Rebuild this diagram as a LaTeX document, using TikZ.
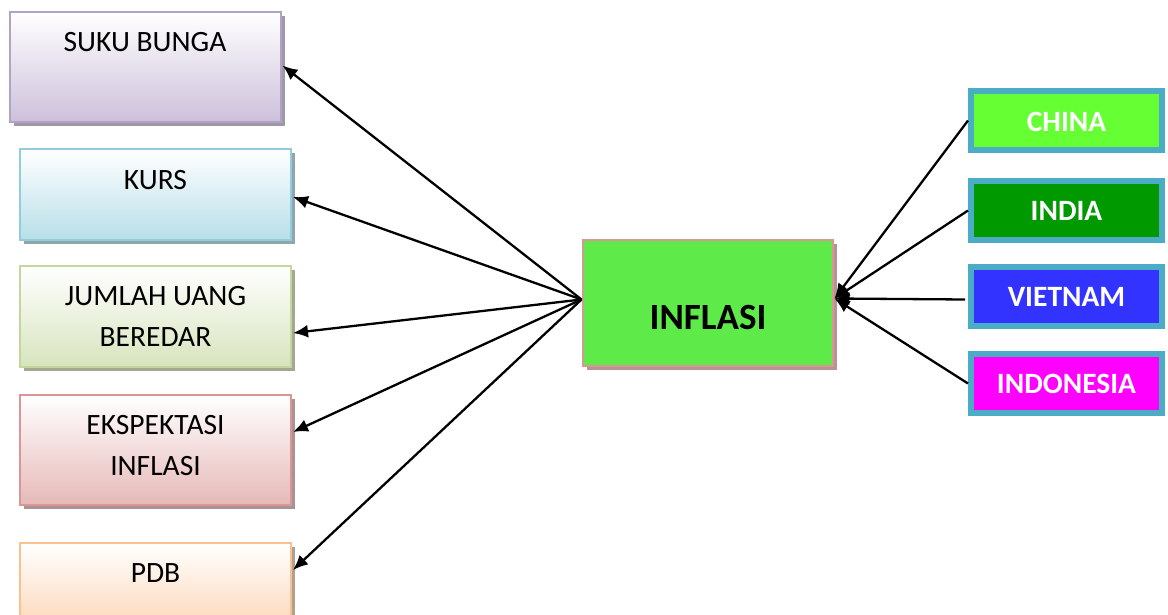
\documentclass[tikz,border=0pt]{standalone}
\usepackage{fontspec}
\setmainfont{Carlito}
\usetikzlibrary{shadows,calc,arrows.meta}
\definecolor{suB}{HTML}{CCC0DA}\definecolor{suD}{HTML}{B3A2C7}\definecolor{suS}{HTML}{A097A8}
\definecolor{kuB}{HTML}{B7DEE8}\definecolor{kuD}{HTML}{93CDDD}\definecolor{kuS}{HTML}{8FA6AC}
\definecolor{juB}{HTML}{D7E4BD}\definecolor{juD}{HTML}{C3D69B}\definecolor{juS}{HTML}{A2A993}
\definecolor{ekB}{HTML}{E6B9B8}\definecolor{ekD}{HTML}{D99694}\definecolor{ekS}{HTML}{AC9393}
\definecolor{pdB}{HTML}{FCD5B5}\definecolor{pdD}{HTML}{FAC090}\definecolor{pdS}{HTML}{B0A090}
\definecolor{inF}{HTML}{5EEB4A}\definecolor{inD}{HTML}{D99694}\definecolor{inS}{HTML}{B49494}
\definecolor{teal}{HTML}{4BACC6}
\definecolor{chC}{HTML}{66FF33}\definecolor{inC}{HTML}{009900}
\definecolor{viC}{HTML}{3333FF}\definecolor{idC}{HTML}{FF00FF}
\tikzset{
  leftbox/.style n args={3}{draw=#2, line width=2pt, top color=white, bottom color=#1,
     minimum width=271pt, inner sep=0pt,
     drop shadow={shadow xshift=4pt, shadow yshift=-4pt, fill=#3, opacity=1}},
  boxtext/.style={font=\fontsize{29.5}{41}\selectfont, align=center, inner sep=0pt},
  country/.style={fill=#1, draw=teal, line width=6pt, minimum width=191pt, minimum height=59pt,
     inner sep=0pt, text=white, font=\fontsize{29.5}{34}\selectfont\bfseries},
  arr/.style={line width=2.3pt, -{Latex[length=15pt,width=13pt]}}
}
\begin{document}
\begin{tikzpicture}[x=1pt,y=1pt]
\useasboundingbox (0,0) rectangle (1168,614);
% left boxes
\node[leftbox={suB}{suD}{suS}, minimum width=271pt, minimum height=110pt] (suku) at (145,546.5) {};
\node[leftbox={kuB}{kuD}{kuS}, minimum height=91pt] (kurs) at (155.5,419) {};
\node[leftbox={juB}{juD}{juS}, minimum height=101pt] (jumlah) at (155.5,297) {};
\node[leftbox={ekB}{ekD}{ekS}, minimum height=109pt] (ekspek) at (155.5,164) {};
\node[leftbox={pdB}{pdD}{pdS}, minimum height=90pt] (pdb) at (155.5,26) {};
\node[boxtext] (tsuku) at (145,572) {SUKU BUNGA};
\node[boxtext] (tkurs) at (155.5,434) {KURS};
\node[boxtext] (tjumlah) at (155.5,297.5) {JUMLAH UANG\\BEREDAR};
\node[boxtext] (tekspek) at (155.5,168.5) {EKSPEKTASI\\INFLASI};
\node[boxtext] (tpdb) at (155.5,41) {PDB};
% center
\node[fill=inF, draw=inD, line width=2pt, minimum width=250pt, minimum height=126pt, inner sep=0pt,
      drop shadow={shadow xshift=4pt, shadow yshift=-4pt, fill=inS, opacity=1}] (inflasi) at (707.5,310.5) {};
\node[font=\fontsize{37}{40}\selectfont\bfseries, inner sep=0pt] (tinflasi) at (708,297) {INFLASI};
% countries
\node[country=chC, text depth=0pt, yshift=0pt] (china) at (1066.5,493.5) {\raisebox{-3pt}{CHINA}};
\node[country=inC] (india) at (1066.5,403.5) {\raisebox{-3pt}{INDIA}};
\node[country=viC] (vietnam) at (1066.5,317.5) {\raisebox{-3pt}{VIETNAM}};
\node[country=idC] (indonesia) at (1066.5,230.5) {\raisebox{-3pt}{INDONESIA}};
% connectors
\coordinate (src) at ($(inflasi.west)+(0,4)$);
\coordinate (dst) at ($(inflasi.east)+(1,5)$);
\draw[arr] (src) -- ($(suku.east)+(1,2)$);
\draw[arr] (src) -- ($(kurs.east)+(1,-2)$);
\draw[arr] (src) -- ($(jumlah.east)+(1,-16)$);
\draw[arr] (src) -- ($(ekspek.east)+(1,18)$);
\draw[arr] (src) -- ($(pdb.east)+(1,18)$);
\draw[arr] (china.west) -- (dst);
\draw[arr] (india.west) -- (dst);
\draw[arr] ($(vietnam.west)+(-3,-3)$) -- (dst);
\draw[arr] (indonesia.west) -- (dst);
\end{tikzpicture}
\end{document}
